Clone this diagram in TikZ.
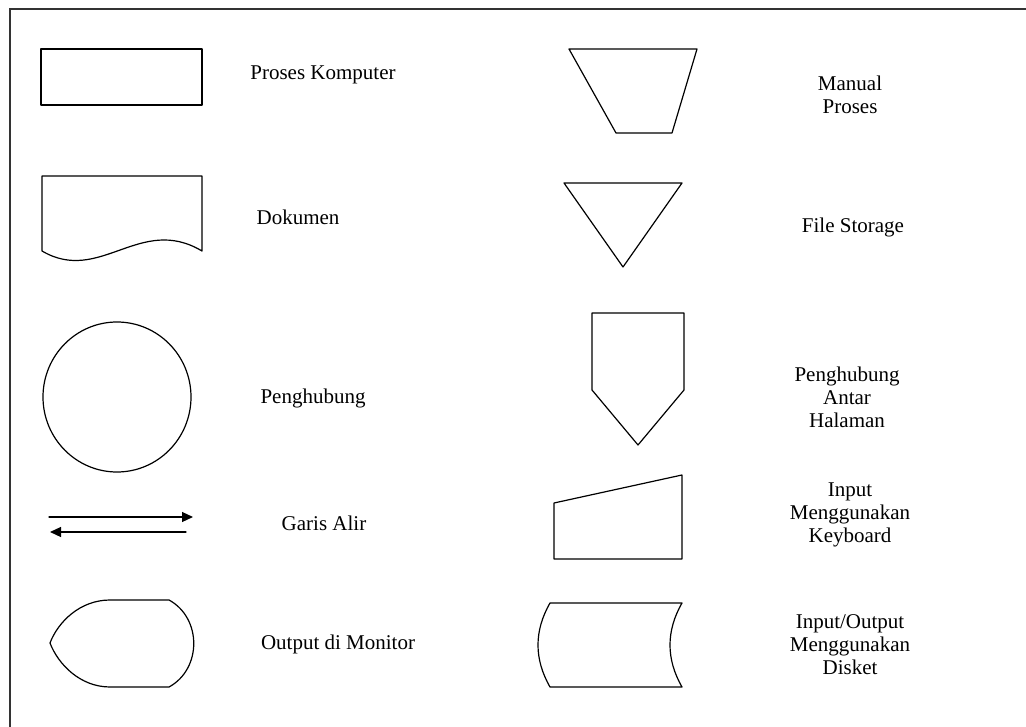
\documentclass[tikz,border=0pt]{standalone}
\usepackage{fontspec}
\setmainfont{Liberation Serif}
\usetikzlibrary{arrows.meta}

\tikzset{
  lbl/.style={font=\fontsize{21}{23}\selectfont,align=center,inner sep=0pt},
  shape line/.style={line width=1.2pt,line join=round},
}

\begin{document}
\begin{tikzpicture}[x=1pt,y=-1pt,line cap=round]
  \useasboundingbox (0,0) rectangle (1026,727);
  % frame
  \draw[line width=1.6pt,black!80] (10,727) -- (10,9) -- (1026,9);
  % left column
  \draw[shape line] (41,49) rectangle (202,105);
  \draw[shape line] (42,251) -- (42,176) -- (202,176) -- (202,251)
    .. controls (140,214) and (100,285) .. (42,251);
  \draw[shape line] (117,397) ellipse [x radius=74,y radius=75];
  \coordinate (flowA) at (49,517);
  \coordinate (flowB) at (193,517);
  \coordinate (flowC) at (186,532);
  \coordinate (flowD) at (50,532);
  \draw[line width=1.2pt,-{Triangle[length=11pt,width=10pt]}] (flowA) -- (flowB);
  \draw[line width=1.2pt,-{Triangle[length=11pt,width=10pt]}] (flowC) -- (flowD);
  \draw[shape line] (110,600) -- (169,600)
    .. controls (202,618) and (202,669) .. (169,687) -- (110,687)
    .. controls (80,687) and (58,664) .. (50,643)
    .. controls (58,622) and (80,600) .. (110,600) -- cycle;
  % right column
  \draw[shape line] (569,49) -- (697,49) -- (672,133) -- (616,133) -- cycle;
  \draw[shape line] (564,183) -- (682,183) -- (623,267) -- cycle;
  \draw[shape line] (592,313) -- (684,313) -- (684,390) -- (638,445) -- (592,390) -- cycle;
  \draw[shape line] (554,503) -- (682,475) -- (682,559) -- (554,559) -- cycle;
  \draw[shape line] (550,603) -- (682,603)
    .. controls (666,631) and (666,659) .. (682,687) -- (550,687)
    .. controls (534,659) and (534,631) .. (550,603) -- cycle;
  % labels
  \node[lbl] (tKomputer) at (323,75) {Proses Komputer};
  \node[lbl] (tDokumen) at (298,217) {Dokumen};
  \node[lbl] (tPenghubung) at (313,398) {Penghubung};
  \node[lbl] (tGaris) at (324,523) {Garis Alir};
  \node[lbl] (tMonitor) at (338,644) {Output di Monitor};
  \node[lbl] (tManual) at (850,95) {Manual\\Proses};
  \node[lbl] (tStorage) at (853,227) {File Storage};
  \node[lbl] (tHalaman) at (847,397) {Penghubung\\Antar\\Halaman};
  \node[lbl] (tKeyboard) at (850,515) {Input\\Menggunakan\\Keyboard};
  \node[lbl] (tDisket) at (850,645) {Input/Output\\Menggunakan\\Disket};
\end{tikzpicture}
\end{document}
